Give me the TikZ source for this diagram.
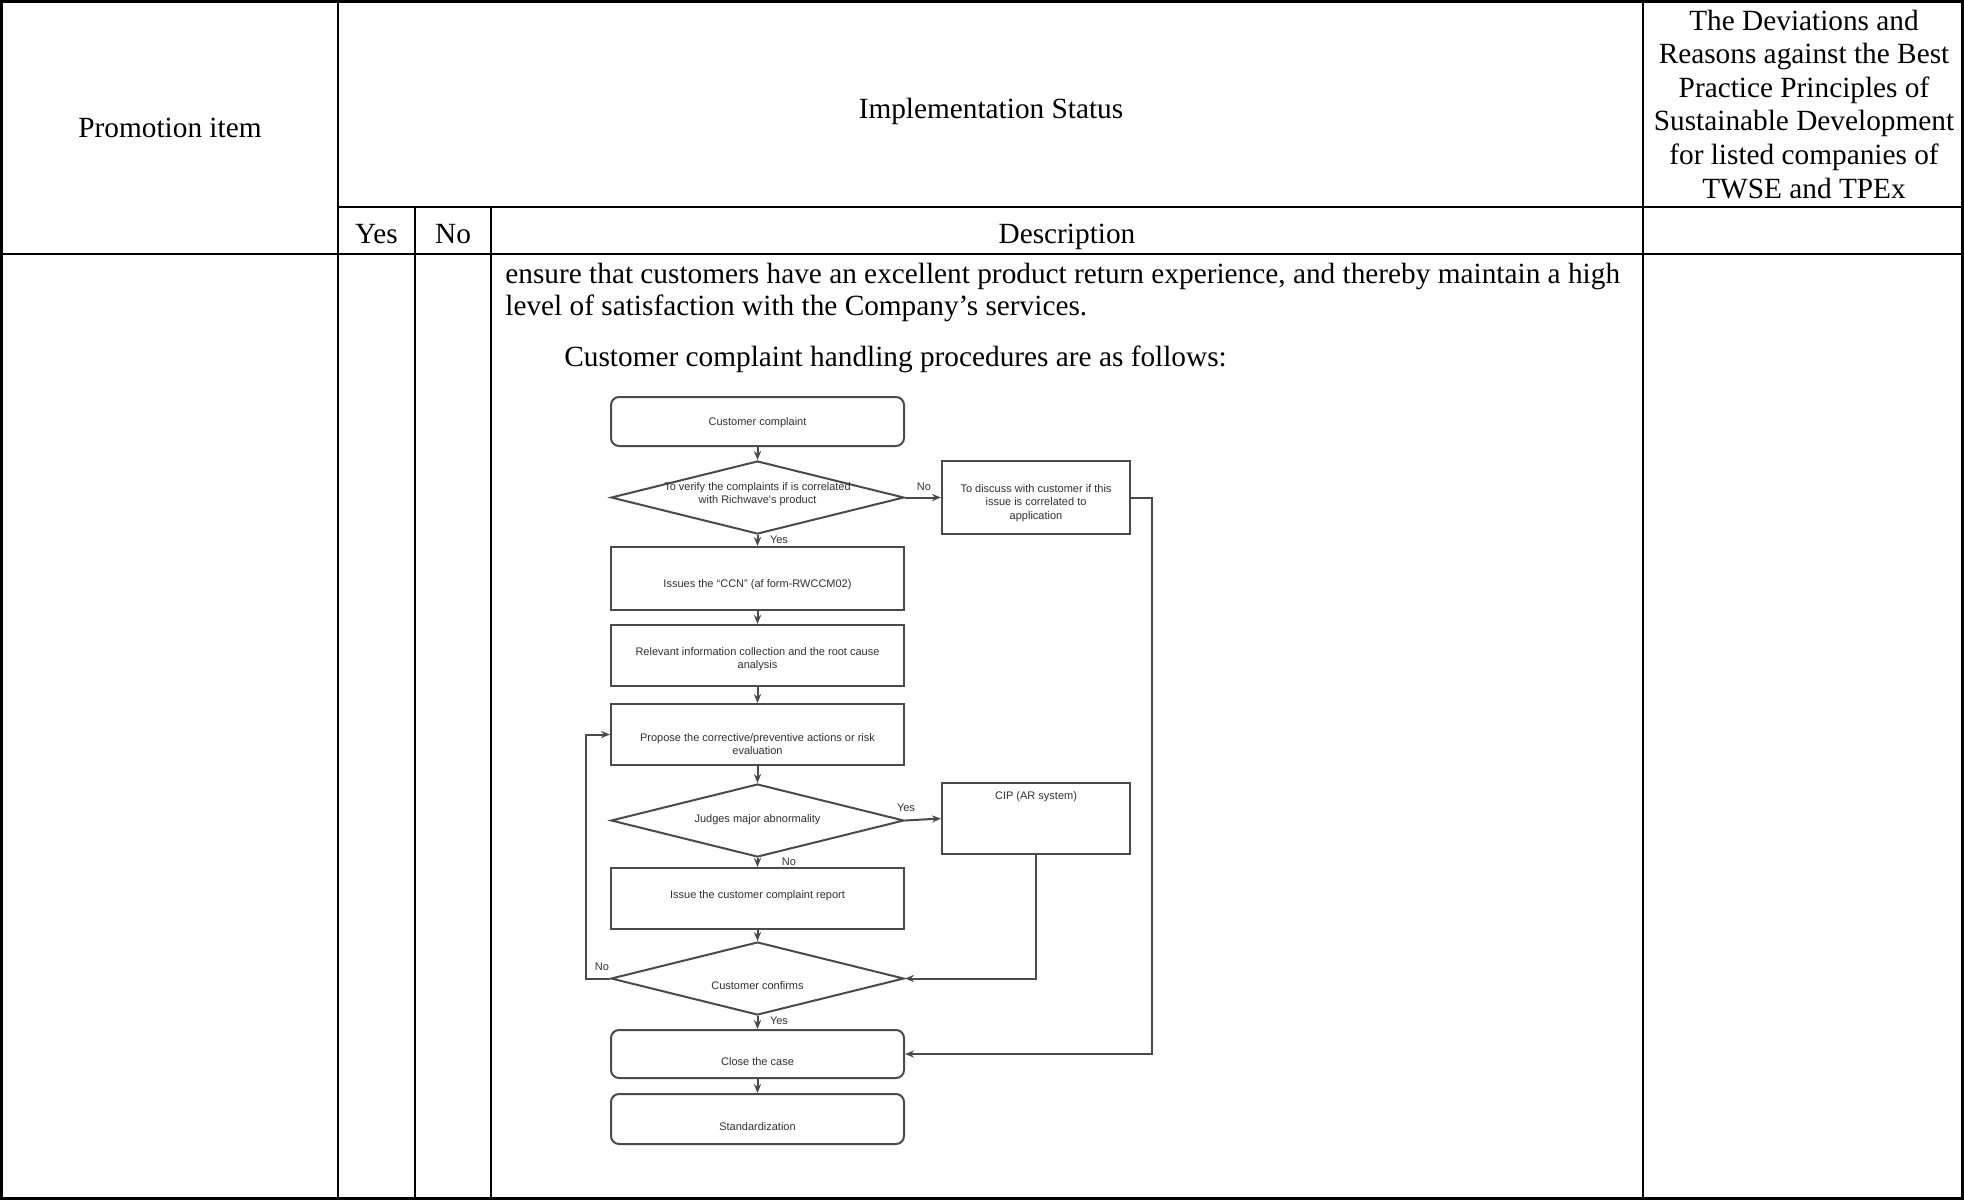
\documentclass[tikz,border=0pt]{standalone}
\usepackage{fontspec}
\setmainfont{Liberation Serif}
\newfontfamily\fcsans{Liberation Sans}
\usetikzlibrary{arrows.meta,shapes.geometric}
\definecolor{fcline}{HTML}{4A4A4A}
\definecolor{fctext}{HTML}{303030}
\begin{document}
\begin{tikzpicture}[x=0.5pt,y=-0.5pt,
  tbl/.style={line width=1pt,black},
  ttxt/.style={font=\fontsize{14.65}{16.8}\selectfont,inner sep=0pt,anchor=base},
  ptxt/.style={font=\fontsize{14.65}{15.5}\selectfont,inner sep=0pt,anchor=base west},
  fshape/.style={draw=fcline,line width=1pt,inner sep=0pt,fill=white},
  fbox/.style={fshape,rectangle,minimum width=146.5pt},
  rbox/.style={fbox,rounded corners=4pt},
  sbox/.style={fshape,rectangle,minimum width=94pt},
  dia/.style={fshape,diamond,minimum width=146.5pt,minimum height=36.5pt},
  ftxt/.style={font=\fcsans\fontsize{5.5}{6.8}\selectfont,text=fctext,inner sep=0pt,align=center},
  flab/.style={font=\fcsans\fontsize{5.5}{6.8}\selectfont,text=fctext,inner sep=0pt},
  arr/.style={draw=fcline,line width=1pt,-{Stealth[length=4.5pt,width=3.6pt]}}
]
\useasboundingbox (0,0) rectangle (1964,1200);
% ---------- table ----------
\draw[line width=1.5pt] (1.5,1.5) rectangle (1962.5,1198.5);
\draw[tbl] (338,0) -- (338,1200);
\draw[tbl] (1643,0) -- (1643,1200);
\draw[tbl] (338,207) -- (1964,207);
\draw[tbl] (0,254) -- (1964,254);
\draw[tbl] (415,207) -- (415,1200);
\draw[tbl] (491,207) -- (491,1200);

\node[ttxt] (hprom) at (170,137) {Promotion item};
\node[ttxt] (himpl) at (991,118) {Implementation Status};
\node[ttxt] (hdev1) at (1804,30) {The Deviations and};
\node[ttxt] (hdev2) at (1804,63.6) {Reasons against the Best};
\node[ttxt] (hdev3) at (1804,97.2) {Practice Principles of};
\node[ttxt] (hdev4) at (1804,130.8) {Sustainable Development};
\node[ttxt] (hdev5) at (1804,164.4) {for listed companies of};
\node[ttxt] (hdev6) at (1804,198) {TWSE and TPEx};
\node[ttxt] (hyes) at (376.5,243) {Yes};
\node[ttxt] (hno) at (453,243) {No};
\node[ttxt] (hdesc) at (1067,243) {Description};

\node[ptxt] (p1) at (505,283) {ensure that customers have an excellent product return experience, and thereby maintain a high};
\node[ptxt] (p2) at (505,315) {level of satisfaction with the Company{\char"0027}s services.};
\node[ptxt] (p3) at (564,366) {Customer complaint handling procedures are as follows:};

% ---------- flowchart ----------
\node[rbox,minimum height=24.5pt] (cc) at (757.5,421.5) {};
\node[ftxt] (tcc) at (757.5,423) {Customer complaint};

\node[dia] (d1) at (757.5,497.5) {};
\node[ftxt] (td1) at (757.5,494) {To verify the complaints if is correlated\\with Richwave{\char"0027}s product};

\node[sbox,minimum height=36.5pt] (b2) at (1036,497.5) {};
\node[ftxt] (tb2) at (1036,503) {To discuss with customer if this\\issue is correlated to\\application};

\node[fbox,minimum height=31.5pt] (b3) at (757.5,578.5) {};
\node[ftxt] (tb3) at (757.5,585) {Issues the “CCN” (af form-RWCCM02)};

\node[fbox,minimum height=30.5pt] (b4) at (757.5,655.5) {};
\node[ftxt] (tb4) at (757.5,659) {Relevant information collection and the root cause\\analysis};

\node[fbox,minimum height=30.5pt] (b5) at (757.5,734.5) {};
\node[ftxt] (tb5) at (757.5,744) {Propose the corrective/preventive actions or risk\\evaluation};

\node[dia] (d2) at (757.5,820.5) {};
\node[ftxt] (td2) at (757.5,820) {Judges major abnormality};

\node[sbox,minimum height=35.5pt] (cip) at (1036,818.5) {};
\node[ftxt] (tcip) at (1036,797) {CIP (AR system)};

\node[fbox,minimum height=30.5pt] (b7) at (757.5,898.5) {};
\node[ftxt] (tb7) at (757.5,896) {Issue the customer complaint report};

\node[dia] (d3) at (757.5,978.5) {};
\node[ftxt] (td3) at (757.5,986) {Customer confirms};

\node[rbox,minimum height=24pt] (close) at (757.5,1054) {};
\node[ftxt] (tclose) at (757.5,1062) {Close the case};

\node[rbox,minimum height=25pt] (std) at (757.5,1119) {};
\node[ftxt] (tstd) at (757.5,1127) {Standardization};

% connectors
\draw[arr] (cc) -- (d1);
\draw[arr] (d1.east) -- (b2.west);
\draw[arr] (d1) -- (b3);
\draw[arr] (b3) -- (b4);
\draw[arr] (b4) -- (b5);
\draw[arr] (b5) -- (d2);
\draw[arr] (d2.east) -- (cip.west);
\draw[arr] (d2) -- (b7);
\draw[arr] (b7) -- (d3);
\draw[arr] (cip.south) |- (d3.east);
\draw[arr] (d3.west) -- ++(-24,0) |- (b5.west);
\draw[arr] (d3) -- (close);
\draw[arr] (b2.east) -- ++(21,0) |- (close.east);
\draw[arr] (close) -- (std);

% connector labels
\node[flab] (ln1) at (924,487) {No};
\node[flab] (ly1) at (779,540) {Yes};
\node[flab] (ly2) at (906,808) {Yes};
\node[flab] (ln2) at (789,862) {No};
\node[flab] (ln3) at (602,967) {No};
\node[flab] (ly3) at (779,1021) {Yes};
\end{tikzpicture}
\end{document}
